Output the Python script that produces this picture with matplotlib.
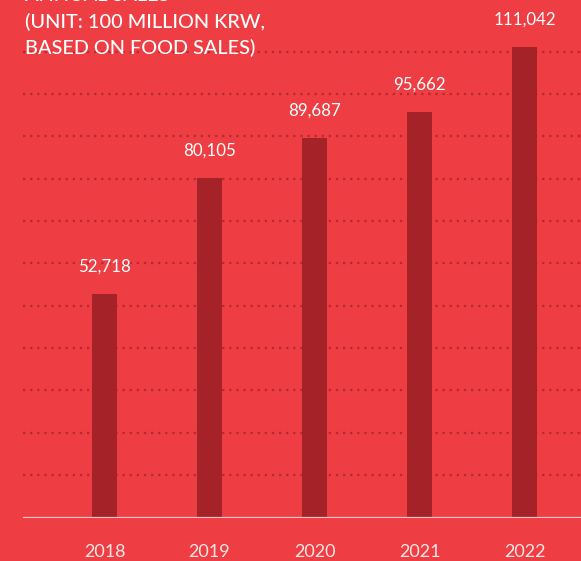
import matplotlib.pyplot as plt

years = ['2018', '2019', '2020', '2021', '2022']
sales = [52718, 80105, 89687, 95662, 111042]
title_lines = ['ANNUAL SALES', '(UNIT: 100 MILLION KRW,', 'BASED ON FOOD SALES)']

BG = '#EE3D43'
BAR = '#A52228'
GRID = '#B52A30'
TXT = '#FFFFFF'

plt.rcParams['font.family'] = ['Lato', 'DejaVu Sans']

fig = plt.figure(figsize=(5.81, 5.61), dpi=100, facecolor=BG)
ax = fig.add_axes([23 / 581, 43.5 / 561, 1 - 23 / 581, 1 - 43.5 / 561])
ax.set_facecolor(BG)

x = list(range(len(years)))
ax.bar(x, sales, width=0.238, color=BAR, zorder=3)

# dotted guide lines every 10,000
for g in range(10000, 110001, 10000):
    ax.axhline(g, color=GRID, lw=1.6, ls=(0, (1, 2.2)), zorder=1)
ax.axhline(0, color='#F7C6C6', lw=1.6, zorder=4)

for xi, v in zip(x, sales):
    ax.text(xi, v + 4600, f'{v:,}', ha='center', va='bottom',
            color=TXT, fontsize=12.2, zorder=5)

ax.set_xlim(-0.776, 4.538)
ax.set_ylim(0, 122200)
ax.set_xticks(x)
ax.set_xticklabels(years, color='#FDE6E6', fontsize=13)
ax.tick_params(axis='x', length=0, pad=19)
ax.set_yticks([])
for s in ax.spines.values():
    s.set_visible(False)

# heading runs off the top edge
for i, line in enumerate(title_lines):
    fig.text(25 / 581, 1 - (-4.5 + 26.5 * i) / 561, line, ha='left', va='center',
             color=TXT, fontsize=14.3, fontweight='medium')

fig.savefig('out.png', dpi=100, facecolor=BG)
